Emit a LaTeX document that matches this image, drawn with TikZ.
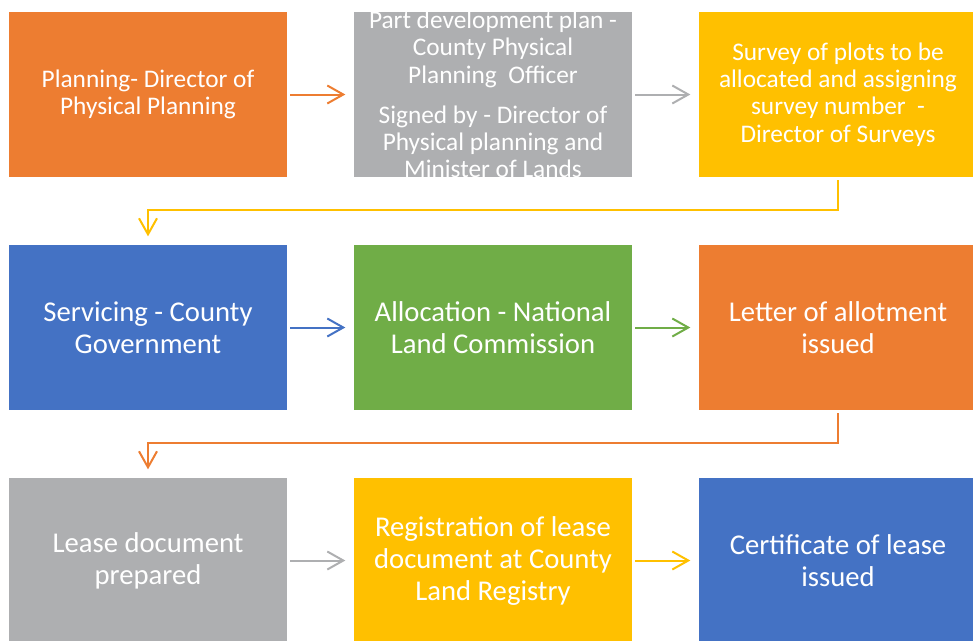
\documentclass[tikz,border=0pt]{standalone}
\usepackage{fontspec}
\setmainfont{Carlito}
\usetikzlibrary{positioning}
\usetikzlibrary{arrows.meta}
\definecolor{boxorange}{HTML}{ED7D31}
\definecolor{boxgrey}{HTML}{AEAFB1}
\definecolor{boxyellow}{HTML}{FFC000}
\definecolor{boxblue}{HTML}{4472C4}
\definecolor{boxgreen}{HTML}{70AD47}
\tikzset {
  node distance={51pt and 50.25pt},
  % coloured step boxes
  box/.style = {rectangle, minimum width=208.5pt, minimum height=123.75pt, inner sep=0pt, outer sep=0pt,
    text=white, align=center, font=\fontsize{21.5}{24}\selectfont},
  % boxes of the first row have more text
  small/.style = {font=\fontsize{19}{20.4}\selectfont},
  % arrows between the boxes
  link/.style = {line width=1.5pt, -{Straight Barb[length=12pt, width=13.5pt]}, shorten <=2.5pt, shorten >=6.5pt},
}

\begin{document}
\begin{tikzpicture}
      \useasboundingbox (0,0) rectangle (729.75pt,-480pt);

      \node[box, small, fill=boxorange] (planning) at (111pt,-70.875pt) {Planning- Director of\\Physical Planning};
      \node[box, fill=boxgrey, right=of planning,
        label={[small, text=white, align=center]center:Part development plan -\\County Physical\\Planning\ \ Officer\\[9.75pt]Signed by - Director of\\Physical planning and\\Minister of Lands}] (devplan) {};
      \node[box, small, fill=boxyellow, right=of devplan] (survey) {Survey of plots to be\\allocated and assigning\\survey number\ \ -\\Director of Surveys};

      \node[box, fill=boxblue, below=of planning] (servicing) {Servicing - County\\Government};
      \node[box, fill=boxgreen, right=of servicing] (allocation) {Allocation - National\\Land Commission};
      \node[box, fill=boxorange, right=of allocation] (allotment) {Letter of allotment\\issued};

      \node[box, fill=boxgrey, below=of servicing] (lease) {Lease document\\prepared};
      \node[box, fill=boxyellow, right=of lease] (registration) {Registration of lease\\document at County\\Land Registry};
      \node[box, fill=boxblue, right=of registration] (certificate) {Certificate of lease\\issued};

      \draw [link, color=boxorange] (planning) -- (devplan);
      \draw [link, color=boxgrey] (devplan) -- (survey);
      \draw [link, color=boxyellow] (survey.south) -- ++(0,-24.75pt) -| (servicing.north);

      \draw [link, color=boxblue] (servicing) -- (allocation);
      \draw [link, color=boxgreen] (allocation) -- (allotment);
      \draw [link, color=boxorange] (allotment.south) -- ++(0,-24.75pt) -| (lease.north);

      \draw [link, color=boxgrey] (lease) -- (registration);
      \draw [link, color=boxyellow] (registration) -- (certificate);
    \end{tikzpicture}
\end{document}
